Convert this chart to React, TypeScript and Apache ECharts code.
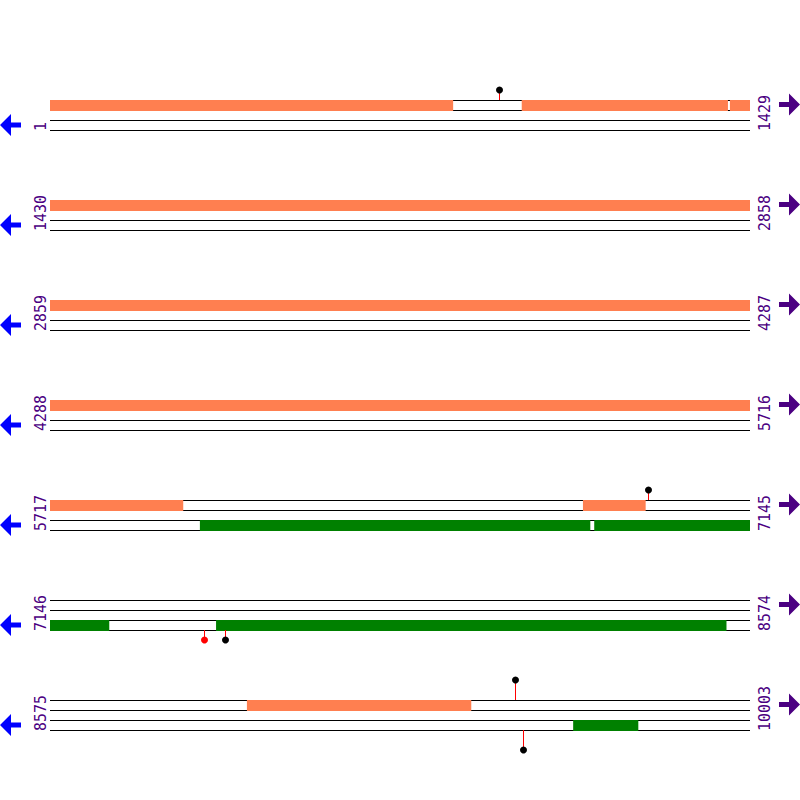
import React, { useEffect, useRef } from "react";
import * as echarts from "echarts";

// ---- data ----
const ROW_LENGTH = 1429;
const rowStarts = [1, 1430, 2859, 4288, 5717, 7146, 8575];
const rowEnds = [1429, 2858, 4287, 5716, 7145, 8574, 10003];

const forwardStarts = [1, 964, 1389, 6805, 8977];
const forwardEnds = [823, 1384, 5988, 6932, 9434];
const reverseStarts = [6023, 6828, 7485, 9643];
const reverseEnds = [6819, 7266, 8526, 9775];

const sitePositions = [919, 6938, 7460, 7503, 9524, 9541];
const siteStrands = ["+", "+", "-", "-", "+", "-"];
const siteColors = ["black", "black", "red", "black", "black", "black"];
const siteLevels = [1, 1, 1, 1, 2, 2];

const FORWARD_COLOR = "#FF7F50";
const REVERSE_COLOR = "#008000";
const LABEL_COLOR = "#4B0082";
const LEFT_ARROW_COLOR = "#0000FF";
const RIGHT_ARROW_COLOR = "#4B0082";
const FONT = "DejaVu Sans Mono";

function rowOf(pos: number) {
  for (let i = 0; i < rowStarts.length; i++) {
    if (pos >= rowStarts[i] && pos <= rowEnds[i]) return i;
  }
  return rowStarts.length - 1;
}

function splitFeatures(starts: number[], ends: number[], strand: number) {
  const out: number[][] = [];
  for (let f = 0; f < starts.length; f++) {
    for (let r = 0; r < rowStarts.length; r++) {
      const s = Math.max(starts[f], rowStarts[r]);
      const e = Math.min(ends[f], rowEnds[r]);
      if (s <= e) out.push([r, s - rowStarts[r], e - rowStarts[r] + 1, strand]);
    }
  }
  return out;
}

export default function App() {
  const ref = useRef<HTMLDivElement>(null);
  useEffect(() => {
    if (!ref.current) return;
    const chart = echarts.init(ref.current, null, { renderer: "svg" });

    const rowData = rowStarts.map((s, i) => [i, s, rowEnds[i]]);
    const featureData = [
      ...splitFeatures(forwardStarts, forwardEnds, 0),
      ...splitFeatures(reverseStarts, reverseEnds, 1),
    ];
    const siteData = sitePositions.map((p, i) => {
      const r = rowOf(p);
      return [r, p - rowStarts[r] + 0.5, siteStrands[i] === "+" ? 0 : 1, siteLevels[i], i];
    });

    const option: any = {
      animation: false,
      grid: { left: 50, top: 100, width: 700, height: 600 },
      xAxis: { type: "value", min: 0, max: ROW_LENGTH, show: false },
      yAxis: { type: "value", min: 0, max: 6, inverse: true, show: false },
      series: [
        {
          type: "custom",
          z: 1,
          data: rowData,
          renderItem: (params: any, api: any) => {
            const row = api.value(0);
            const p0 = api.coord([0, row]);
            const p1 = api.coord([ROW_LENGTH, row]);
            const x0 = p0[0];
            const x1 = p1[0];
            const y = Math.round(p0[1]);
            const children: any[] = [];
            [0, 10, 20, 30].forEach((dy) => {
              children.push({
                type: "line",
                shape: { x1: x0, y1: y + dy + 0.5, x2: x1, y2: y + dy + 0.5 },
                style: { stroke: "#000", lineWidth: 1 },
              });
            });
            const ax = x0 - 50;
            const ly = y + 25;
            children.push({
              type: "polygon",
              shape: {
                points: [
                  [ax, ly], [ax + 11, ly - 11], [ax + 11, ly - 2.5], [ax + 21, ly - 2.5],
                  [ax + 21, ly + 2.5], [ax + 11, ly + 2.5], [ax + 11, ly + 11],
                ],
              },
              style: { fill: LEFT_ARROW_COLOR },
            });
            const bx = x1 + 29;
            const ry = y + 4.5;
            children.push({
              type: "polygon",
              shape: {
                points: [
                  [bx + 21, ry], [bx + 10, ry - 11], [bx + 10, ry - 2.5], [bx, ry - 2.5],
                  [bx, ry + 2.5], [bx + 10, ry + 2.5], [bx + 10, ry + 11],
                ],
              },
              style: { fill: RIGHT_ARROW_COLOR },
            });
            children.push({
              type: "text",
              x: x0 - 9,
              y: y + 31,
              rotation: Math.PI / 2,
              style: {
                text: String(api.value(1)),
                fill: LABEL_COLOR,
                fontSize: 15,
                fontFamily: FONT,
                align: "left",
                verticalAlign: "middle",
              },
            });
            children.push({
              type: "text",
              x: x1 + 14.5,
              y: y + 31,
              rotation: Math.PI / 2,
              style: {
                text: String(api.value(2)),
                fill: LABEL_COLOR,
                fontSize: 15,
                fontFamily: FONT,
                align: "left",
                verticalAlign: "middle",
              },
            });
            return { type: "group", children };
          },
        },
        {
          type: "custom",
          z: 2,
          data: featureData,
          renderItem: (params: any, api: any) => {
            const row = api.value(0);
            const p0 = api.coord([api.value(1), row]);
            const p1 = api.coord([api.value(2), row]);
            const y = Math.round(p0[1]) + (api.value(3) === 0 ? 0 : 20);
            return {
              type: "rect",
              shape: { x: p0[0], y, width: p1[0] - p0[0], height: 11 },
              style: { fill: api.value(3) === 0 ? FORWARD_COLOR : REVERSE_COLOR },
            };
          },
        },
        {
          type: "custom",
          z: 3,
          data: siteData,
          renderItem: (params: any, api: any) => {
            const row = api.value(0);
            const p = api.coord([api.value(1), row]);
            const x = Math.floor(p[0]) + 0.5;
            const base = Math.round(p[1]);
            const level = api.value(3);
            const idx = api.value(4);
            let y0: number, y1: number;
            if (api.value(2) === 0) {
              y0 = base;
              y1 = base - 10 * level;
            } else {
              y0 = base + 30;
              y1 = base + 30 + 10 * level;
            }
            return {
              type: "group",
              children: [
                {
                  type: "line",
                  shape: { x1: x, y1: y0, x2: x, y2: y1 },
                  style: { stroke: "red", lineWidth: 1 },
                },
                {
                  type: "circle",
                  shape: { cx: x, cy: y1, r: 3.5 },
                  style: { fill: siteColors[idx] },
                },
              ],
            };
          },
        },
      ],
    };
    chart.setOption(option);
    return () => chart.dispose();
  }, []);

  return (
    <div
      ref={ref}
      style={{ position: "fixed", left: 0, top: 0, width: 800, height: 800, background: "#fff" }}
    />
  );
}
